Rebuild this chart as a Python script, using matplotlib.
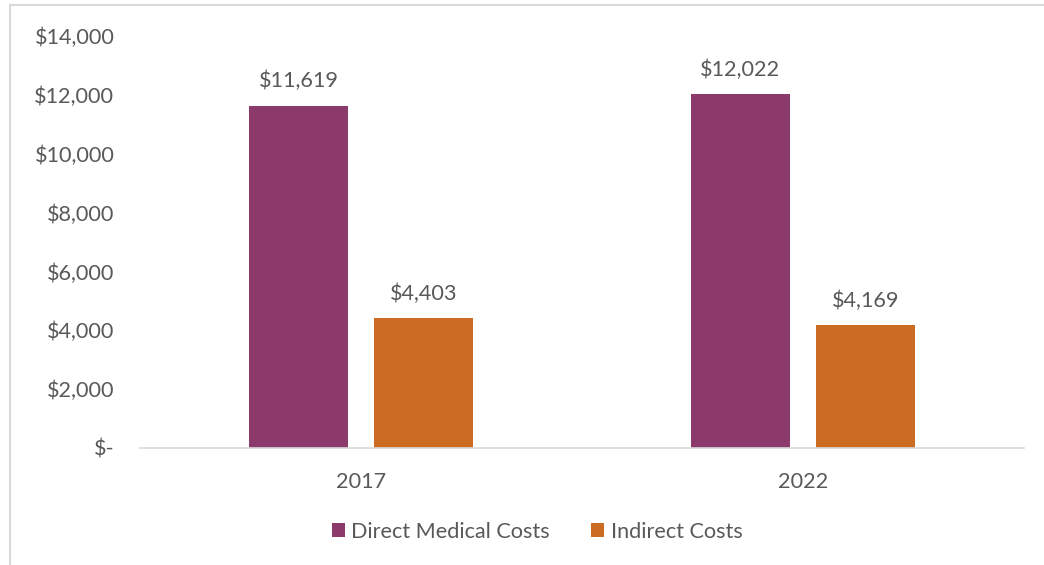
import matplotlib
matplotlib.use("Agg")
import matplotlib.pyplot as plt
from matplotlib.lines import Line2D
import numpy as np

years = ["2017", "2022"]
series_names = ["Direct Medical Costs", "Indirect Costs"]
direct = [11619, 12022]
indirect = [4403, 4169]
yticks = [0, 2000, 4000, 6000, 8000, 10000, 12000, 14000]

colors = ["#8B3A6B", "#CC6B22"]
txt = "#595959"
plt.rcParams['font.family'] = ['Lato', 'DejaVu Sans']
fs = 15.6

W, H = 1044, 565
fig = plt.figure(figsize=(W/100, H/100), dpi=100)
ax = fig.add_axes([140/W, 1-448/H, 884/W, (448-36)/H])

x = np.arange(len(years))
bw = 0.224
off = 0.1415
b1 = ax.bar(x - off, direct, bw, color=colors[0], label=series_names[0])
b2 = ax.bar(x + off, indirect, bw, color=colors[1], label=series_names[1])
for bars, vals in ((b1, direct), (b2, indirect)):
    for r, v in zip(bars, vals):
        ax.annotate(f"${v:,}", (r.get_x() + r.get_width()/2, v), xytext=(0, 10.5),
                    textcoords="offset points", ha="center", va="bottom",
                    fontsize=fs, color=txt)

ax.set_xlim(-0.5, 1.5)
ax.set_ylim(0, 14000)
ax.set_yticks(yticks)
ax.set_yticklabels(["$-" if v == 0 else f"${v:,}" for v in yticks])
ax.set_xticks(x)
ax.set_xticklabels(years)
ax.tick_params(axis='both', length=0, labelsize=fs, colors=txt)
ax.tick_params(axis='y', pad=18.5)
ax.tick_params(axis='x', pad=17)
for s in ["top", "right", "left"]:
    ax.spines[s].set_visible(False)
ax.spines["bottom"].set_color("#D9D9D9")
ax.spines["bottom"].set_linewidth(1.2)

leg = fig.legend(handles=[b1, b2], labels=series_names, loc="center",
                 bbox_to_anchor=(537/W, 1-532/H), ncol=2, frameon=False,
                 fontsize=fs, handlelength=0.6, handleheight=0.6,
                 columnspacing=1.9, handletextpad=0.3)
for t in leg.get_texts():
    t.set_color(txt)

# chart area border
fig.add_artist(Line2D([10/W, 10/W], [0, 1-5/H], transform=fig.transFigure, color="#D9D9D9", lw=1.5))
fig.add_artist(Line2D([10/W, 1], [1-5/H, 1-5/H], transform=fig.transFigure, color="#D9D9D9", lw=1.5))

fig.savefig("out.png", dpi=100)
